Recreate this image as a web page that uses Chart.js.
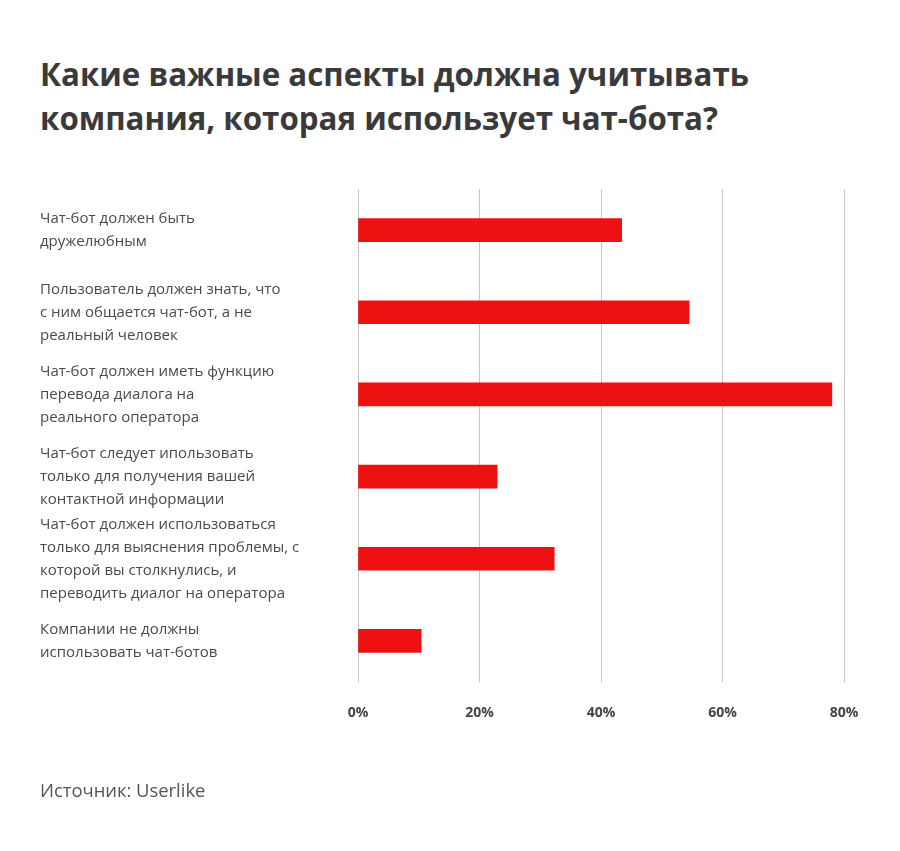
<!DOCTYPE html>
<html lang="ru">
<head>
<meta charset="utf-8">
<script src="https://cdn.jsdelivr.net/npm/chart.js@4/dist/chart.umd.min.js"></script>
<style>
  html, body { margin: 0; padding: 0; background: #fff; }
  #wrap { position: relative; width: 900px; height: 851px; overflow: hidden; }
  #title { position: absolute; left: 40px; top: 52px; margin: 0;
    font-family: "Open Sans", sans-serif; font-weight: 700; font-size: 31.3px;
    line-height: 44px; color: #3a3a3a; letter-spacing: 0px; }
  #source { position: absolute; left: 40px; top: 777px;
    font-family: "Open Sans", sans-serif; font-size: 18.4px; color: #555; }
  #c { position: absolute; left: 0; top: 0; }
</style>
</head>
<body>
<div id="wrap">
  <h1 id="title">Какие важные аспекты должна учитывать<br>компания, которая использует чат-бота?</h1>
  <canvas id="c" width="900" height="851"></canvas>
  <div id="source">Источник: Userlike</div>
</div>
<script>
const categories = [
  ["Чат-бот должен быть", "дружелюбным"],
  ["Пользователь должен знать, что", "с ним общается чат-бот, а не", "реальный человек"],
  ["Чат-бот должен иметь функцию", "перевода диалога на", "реального оператора"],
  ["Чат-бот следует ипользовать", "только для получения вашей", "контактной информации"],
  ["Чат-бот должен использоваться", "только для выяснения проблемы, с", "которой вы столкнулись, и", "переводить диалог на оператора"],
  ["Компании не должны", "использовать чат-ботов"]
];
const shares = [43.4, 54.5, 78.0, 22.9, 32.3, 10.4];
const xTicks = [0, 20, 40, 60, 80];

new Chart(document.getElementById('c'), {
  type: 'bar',
  data: {
    labels: categories,
    datasets: [{
      data: shares,
      backgroundColor: '#EF1111',
      borderWidth: 0,
      barThickness: 23
    }]
  },
  options: {
    indexAxis: 'y',
    responsive: false,
    animation: false,
    layout: { padding: { top: 189, left: 40, right: 56, bottom: 119 } },
    plugins: { legend: { display: false }, tooltip: { enabled: false }, title: { display: false } },
    scales: {
      x: {
        min: 0, max: 80,
        afterBuildTicks: s => { s.ticks = xTicks.map(v => ({ value: v })); },
        afterFit: s => { s.height = 50; },
        grid: { color: '#c6c6c6', lineWidth: 1, drawTicks: false },
        border: { display: false },
        ticks: {
          padding: 23,
          color: '#444',
          font: { family: 'Open Sans', size: 14, weight: '700' },
          callback: v => v + '%'
        }
      },
      y: {
        afterFit: s => { s.width = 318; },
        grid: { display: false, drawTicks: false },
        border: { display: false },
        ticks: {
          autoSkip: false,
          crossAlign: 'far',
          color: '#4a4a4a',
          font: { family: 'Open Sans', size: 15, lineHeight: '23px' }
        }
      }
    }
  }
});
</script>
</body>
</html>
